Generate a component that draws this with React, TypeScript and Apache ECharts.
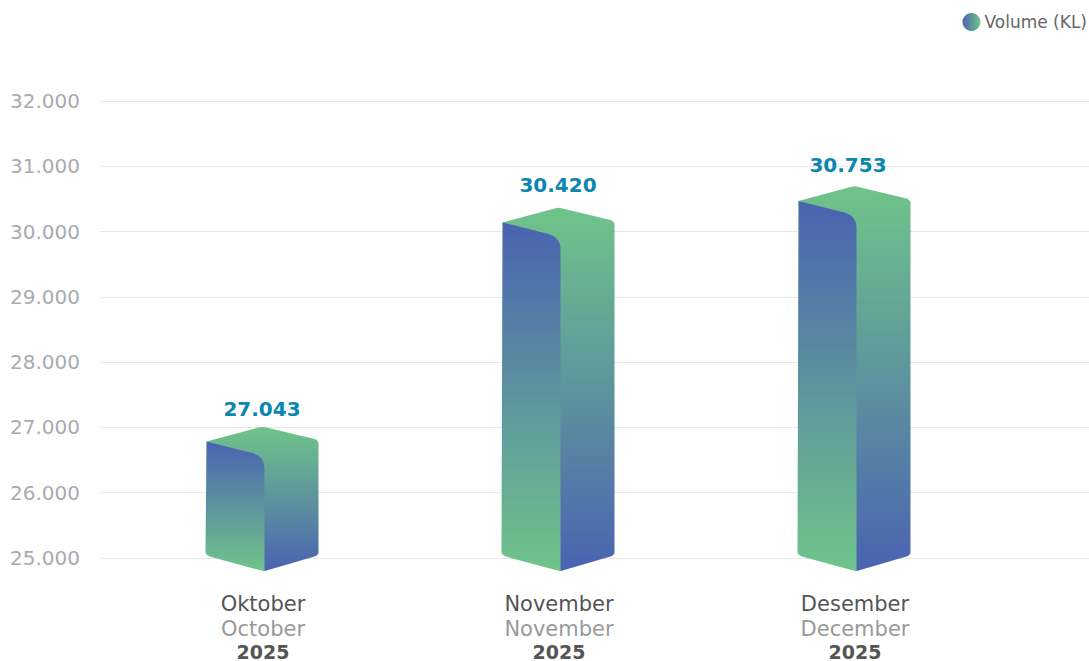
import React, { useEffect, useRef } from "react";
import * as echarts from "echarts";

const categoriesId = ["Oktober", "November", "Desember"];
const categoriesEn = ["October", "November", "December"];
const years = ["2025", "2025", "2025"];
const volumes = [27043, 30420, 30753];
const yTicksMin = 25000;
const yTicksMax = 32000;
const yInterval = 1000;
const seriesName = "Volume (KL)";

const BLUE = "#4a63b1";
const GREEN = "#70c48a";
const FONT = "'DejaVu Sans', sans-serif";
const LABEL_NUDGE = [
  [0, 3],
  [0, -2],
  [-6, -1],
];

const fmt = (v: number) => String(v).replace(/\B(?=(\d{3})+$)/g, ".");
const vGrad = (a: string, b: string) =>
  new echarts.graphic.LinearGradient(0, 0, 0, 1, [
    { offset: 0, color: a },
    { offset: 1, color: b },
  ]);

function renderBar(params: any, api: any) {
  const i = api.value(0);
  const v = api.value(1);
  const c = api.coord([i, v])[0] + 1.5;
  const apex = api.coord([i, v])[1] + 4;
  const base = api.coord([i, yTicksMin])[1];
  const bottom = base + 15.5;

  const back =
    `M ${c - 58} ${apex + 15} L ${c - 5} ${apex + 0.8} Q ${c - 2} ${apex} ${c + 1} ${apex + 0.8} ` +
    `L ${c + 50} ${apex + 12.5} Q ${c + 54} ${apex + 14} ${c + 54} ${apex + 17} ` +
    `L ${c + 54} ${base - 3} Q ${c + 54} ${base} ${c + 50} ${base + 1.5} ` +
    `L ${c + 2} ${bottom} Q ${c} ${bottom + 0.4} ${c - 2} ${bottom} Z`;
  const left =
    `M ${c - 58} ${apex + 15} L ${c - 12} ${apex + 26.5} Q ${c} ${apex + 30} ${c} ${apex + 42} ` +
    `L ${c} ${bottom + 0.3} Q ${c - 3} ${bottom + 0.3} ${c - 5} ${bottom - 0.4} ` +
    `L ${c - 53} ${base + 2} Q ${c - 59} ${base} ${c - 59} ${base - 3} Z`;

  return {
    type: "group",
    children: [
      { type: "path", shape: { pathData: back }, style: { fill: vGrad(GREEN, BLUE) } },
      { type: "path", shape: { pathData: left }, style: { fill: vGrad(BLUE, GREEN) } },
      {
        type: "text",
        style: {
          x: c - 2.5 + LABEL_NUDGE[i][0],
          y: apex - 20 + LABEL_NUDGE[i][1],
          text: fmt(v),
          fill: "#0a86b0",
          font: `bold 20px ${FONT}`,
          align: "center",
          verticalAlign: "middle",
        },
      },
    ],
  };
}

export default function App() {
  const ref = useRef<HTMLDivElement>(null);
  useEffect(() => {
    const chart = echarts.init(ref.current!, null, { renderer: "svg" });
    chart.setOption({
      animation: false,
      textStyle: { fontFamily: FONT },
      legend: {
        right: 2,
        top: 13,
        padding: 0,
        itemWidth: 18,
        itemHeight: 18,
        itemGap: 6,
        data: [
          {
            name: seriesName,
            icon: "circle",
            itemStyle: {
              color: new echarts.graphic.LinearGradient(0, 0, 1, 0, [
                { offset: 0, color: BLUE },
                { offset: 1, color: GREEN },
              ]),
            },
          },
        ],
        textStyle: { color: "#666", fontSize: 17, fontFamily: FONT, padding: [0, 0, 0, -1] },
      },
      grid: [
        { left: 100, width: 989, top: 101, height: 457 },
        { left: 115, width: 888, top: 101, height: 457 },
      ],
      xAxis: [
        { type: "category", gridIndex: 0, data: categoriesId, show: false },
        {
          type: "category",
          gridIndex: 1,
          data: categoriesId,
          axisLine: { show: false },
          axisTick: { show: false },
          axisLabel: {
            margin: 36,
            interval: 0,
            formatter: (_: string, idx: number) =>
              `{a|${categoriesId[idx]}}\n{b|${categoriesEn[idx]}}\n{c|${years[idx]}}`,
            rich: {
              a: { color: "#555", fontSize: 21, lineHeight: 25, fontFamily: FONT },
              b: { color: "#999", fontSize: 21, lineHeight: 25, fontFamily: FONT },
              c: { color: "#555", fontSize: 19, lineHeight: 21, fontWeight: "bold", fontFamily: FONT },
            },
          },
        },
      ],
      yAxis: [
        {
          type: "value",
          gridIndex: 0,
          min: yTicksMin,
          max: yTicksMax,
          interval: yInterval,
          axisLine: { show: false },
          axisTick: { show: false },
          axisLabel: {
            margin: 20,
            color: "#aaaab0",
            fontSize: 20,
            fontFamily: FONT,
            formatter: (v: number) => fmt(v),
          },
          splitLine: { show: true, lineStyle: { color: "#e8e8e8", width: 1 } },
        },
        { type: "value", gridIndex: 1, min: yTicksMin, max: yTicksMax, show: false },
      ],
      series: [
        {
          name: seriesName,
          type: "custom",
          xAxisIndex: 1,
          yAxisIndex: 1,
          clip: false,
          data: volumes.map((v, i) => [i, v]),
          encode: { x: 0, y: 1 },
          renderItem: renderBar,
        },
      ],
    });
    return () => chart.dispose();
  }, []);
  return (
    <div
      ref={ref}
      style={{ position: "fixed", left: 0, top: 0, width: 1089, height: 661, background: "#fff" }}
    />
  );
}
